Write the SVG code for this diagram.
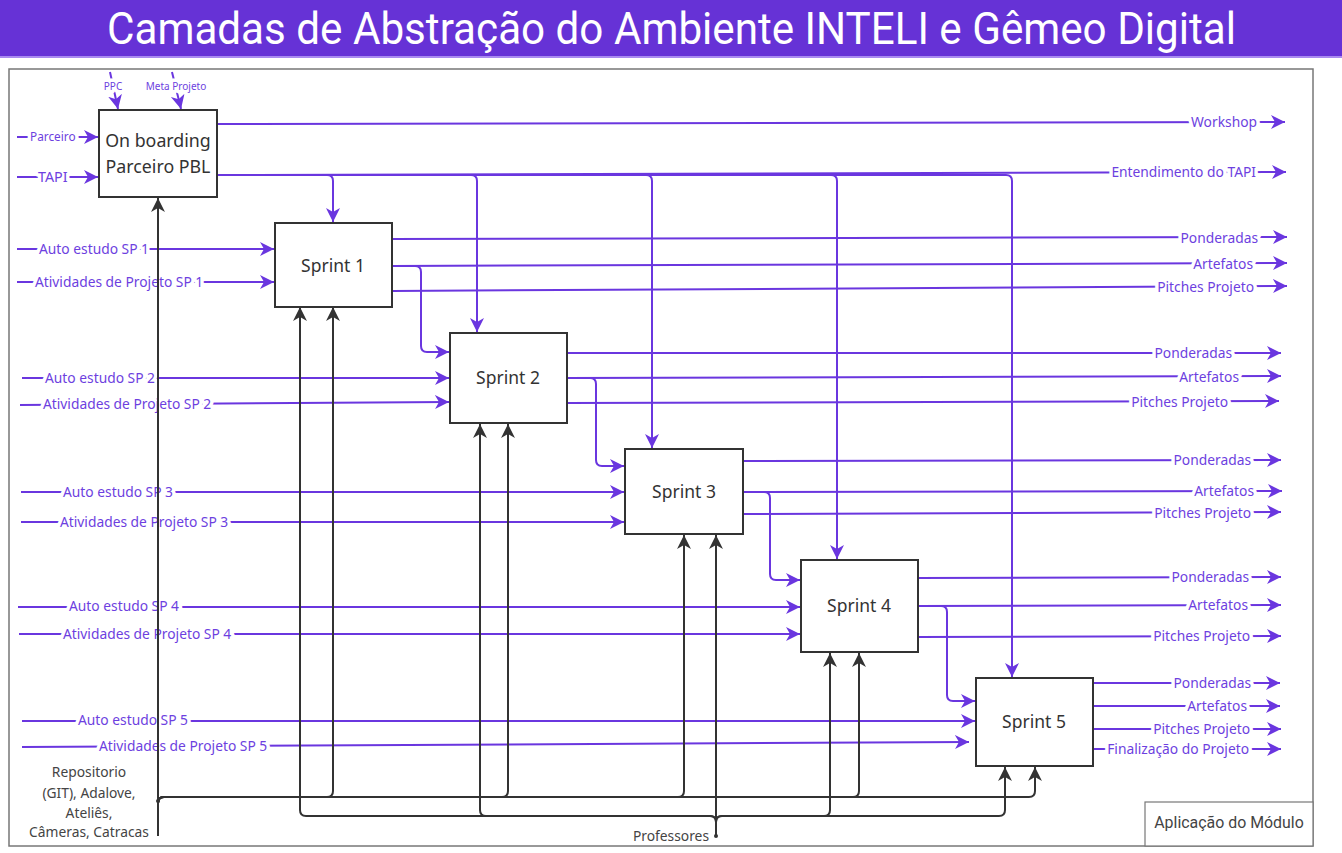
<svg xmlns="http://www.w3.org/2000/svg" width="1342" height="853" viewBox="0 0 1342 853">
<style>
.box{fill:#fff;stroke:#333;stroke-width:2}
.nt{font-family:"Noto Sans",sans-serif;fill:#333;text-anchor:middle}
.p{fill:none;stroke:#6a36df;stroke-width:2;marker-end:url(#ap)}
.k{fill:none;stroke:#333;stroke-width:2;marker-end:url(#ak)}
.lbl{font-family:"Noto Sans",sans-serif;font-size:13.8px;fill:#6d3fe0;stroke:#fff;stroke-width:7;stroke-linejoin:round;paint-order:stroke}
.end{text-anchor:end}
.mid{text-anchor:middle}
.gt{font-family:"Noto Sans",sans-serif;font-size:13.8px;fill:#444}
</style>
<defs>
<marker id="ap" markerUnits="userSpaceOnUse" markerWidth="16" markerHeight="16" refX="14" refY="7" orient="auto">
<path d="M0,0 L14,7 L0,14 L4,7 z" fill="#6a36df"/>
</marker>
<marker id="ak" markerUnits="userSpaceOnUse" markerWidth="16" markerHeight="16" refX="14" refY="7" orient="auto">
<path d="M0,0 L14,7 L0,14 L4,7 z" fill="#333"/>
</marker>
</defs>
<rect x="0" y="0" width="1342" height="853" fill="#fff"/>
<rect x="0" y="0" width="1342" height="56" fill="#6632d6"/>
<rect x="0" y="56" width="1342" height="2" fill="#a98af0"/>
<text x="107" y="43.5" font-family="Roboto,sans-serif" font-size="45" fill="#fff" textLength="1129" lengthAdjust="spacingAndGlyphs">Camadas de Abstração do Ambiente INTELI e Gêmeo Digital</text>
<rect x="9" y="69" width="1304" height="777" fill="none" stroke="#777" stroke-width="1.5"/>
<g id="aplicacao">
<rect x="1145" y="802" width="168" height="44" fill="#fff" stroke="#777" stroke-width="1.2"/>
<text x="1229" y="828" font-family="Roboto,sans-serif" font-size="15.9" fill="#444" text-anchor="middle">Aplicação do Módulo</text>
</g>
<g id="connectors">
<path class="p" d="M110,72 L118,109"/>
<text class="lbl mid" x="113" y="90" style="font-size:10px">PPC</text>
<path class="p" d="M172,72 L181,109"/>
<text class="lbl mid" x="176" y="90" style="font-size:10px">Meta Projeto</text>
<path class="p" d="M17,137 H98"/>
<text class="lbl" x="30" y="141" style="font-size:11.8px">Parceiro</text>
<path class="p" d="M17,177 H98"/>
<text class="lbl" x="38" y="182" style="font-size:14.3px">TAPI</text>
<path class="p" d="M217,124 L1285,122"/>
<text class="lbl end" x="1257" y="127">Workshop</text>
<path class="p" d="M217,175 L1286,172"/>
<text class="lbl end" x="1256" y="177">Entendimento do TAPI</text>
<path class="p" d="M217,175 H327 Q333,175 333,181 V222"/>
<path class="p" d="M217,175 H471 Q477,175 477,181 V332"/>
<path class="p" d="M217,175 H646 Q652,175 652,181 V448"/>
<path class="p" d="M217,175 H831 Q837,175 837,181 V559"/>
<path class="p" d="M217,175 H1006 Q1012,175 1012,181 V677"/>

<path class="p" d="M17,249 H274"/>
<text class="lbl" x="39" y="253.5">Auto estudo SP 1</text>
<path class="p" d="M17,282 H274"/>
<text class="lbl" x="35" y="286.5">Atividades de Projeto SP 1</text>
<path class="p" d="M392,239 L1287,237"/>
<text class="lbl end" x="1258" y="242.5">Ponderadas</text>
<path class="p" d="M392,266 L1287,263"/>
<text class="lbl end" x="1253" y="268.5">Artefatos</text>
<path class="p" d="M392,291 L1287,286"/>
<text class="lbl end" x="1254" y="292">Pitches Projeto</text>
<path class="p" d="M392,266 H415 Q421,266 421,272 V346 Q421,352 427,352 H449"/>

<path class="p" d="M22,378 H449"/>
<text class="lbl" x="45" y="382.5">Auto estudo SP 2</text>
<path class="p" d="M20,405 L449,402"/>
<text class="lbl" x="43" y="409">Atividades de Projeto SP 2</text>
<path class="p" d="M567,353 H1281"/>
<text class="lbl end" x="1232" y="357.5">Ponderadas</text>
<path class="p" d="M567,378 L1281,376"/>
<text class="lbl end" x="1239" y="381.5">Artefatos</text>
<path class="p" d="M567,403 L1279,401"/>
<text class="lbl end" x="1228" y="406.5">Pitches Projeto</text>
<path class="p" d="M567,378 H590 Q596,378 596,384 V460 Q596,466 602,466 H624"/>

<path class="p" d="M21,492 H624"/>
<text class="lbl" x="63" y="496.5">Auto estudo SP 3</text>
<path class="p" d="M21,522 H624"/>
<text class="lbl" x="60" y="526.5">Atividades de Projeto SP 3</text>
<path class="p" d="M743,461 L1281,460"/>
<text class="lbl end" x="1251" y="465">Ponderadas</text>
<path class="p" d="M743,492 L1282,491"/>
<text class="lbl end" x="1254" y="496">Artefatos</text>
<path class="p" d="M743,514 L1281,512"/>
<text class="lbl end" x="1251" y="517.5">Pitches Projeto</text>
<path class="p" d="M743,492 H764 Q770,492 770,498 V574 Q770,580 776,580 H800"/>

<path class="p" d="M18,607 H800"/>
<text class="lbl" x="69" y="611">Auto estudo SP 4</text>
<path class="p" d="M19,634 H800"/>
<text class="lbl" x="63" y="638.5">Atividades de Projeto SP 4</text>
<path class="p" d="M918,578 L1281,577"/>
<text class="lbl end" x="1249" y="582">Ponderadas</text>
<path class="p" d="M918,606 L1281,605"/>
<text class="lbl end" x="1248" y="610">Artefatos</text>
<path class="p" d="M918,637 L1281,636"/>
<text class="lbl end" x="1250" y="641">Pitches Projeto</text>
<path class="p" d="M918,606 H941 Q947,606 947,612 V695 Q947,701 953,701 H975"/>

<path class="p" d="M22,721 H975"/>
<text class="lbl" x="78" y="725">Auto estudo SP 5</text>
<path class="p" d="M22,747 L969,742"/>
<text class="lbl" x="99" y="751">Atividades de Projeto SP 5</text>
<path class="p" d="M1093,683 H1280"/>
<text class="lbl end" x="1251" y="687.5">Ponderadas</text>
<path class="p" d="M1093,706 H1280"/>
<text class="lbl end" x="1247" y="710.5">Artefatos</text>
<path class="p" d="M1093,729 H1281"/>
<text class="lbl end" x="1250" y="733.5">Pitches Projeto</text>
<path class="p" d="M1093,749 H1281"/>
<text class="lbl end" x="1249" y="753.5">Finalização do Projeto</text>

<path class="k" d="M158,836 V198"/>
<path class="k" d="M158,803 Q158,797 164,797 H327 Q333,797 333,791 V307"/>
<path class="k" d="M158,803 Q158,797 164,797 H502 Q508,797 508,791 V424"/>
<path class="k" d="M158,803 Q158,797 164,797 H678 Q684,797 684,791 V535"/>
<path class="k" d="M158,803 Q158,797 164,797 H853 Q859,797 859,791 V653"/>
<path class="k" d="M158,803 Q158,797 164,797 H1029 Q1035,797 1035,791 V767"/>
<path class="k" d="M716,836 V822 Q716,816 710,816 H306 Q300,816 300,810 V307"/>
<path class="k" d="M716,836 V822 Q716,816 710,816 H486 Q480,816 480,810 V424"/>
<path class="k" d="M716,836 V535"/>
<path class="k" d="M716,836 V822 Q716,816 722,816 H824 Q830,816 830,810 V653"/>
<path class="k" d="M716,836 V822 Q716,816 722,816 H999 Q1005,816 1005,810 V767"/>
<circle cx="158" cy="801" r="2" fill="#333"/>
<circle cx="716" cy="836" r="2" fill="#333"/>
</g>
<g id="repositorio">
<text class="gt" text-anchor="middle" x="89" y="777">Repositorio</text>
<text class="gt" text-anchor="middle" x="89" y="798">(GIT), Adalove,</text>
<text class="gt" text-anchor="middle" x="89" y="818">Ateliês,</text>
<text class="gt" text-anchor="middle" x="89" y="837">Câmeras, Catracas</text>
</g>
<g id="professores">
<text class="gt" text-anchor="end" x="709" y="841">Professores</text>
</g>
<g id="onboarding">
<rect class="box" x="99" y="110" width="118" height="87"/>
<text class="nt" x="158" y="147" font-size="17.8">On boarding</text>
<text class="nt" x="158" y="173" font-size="17.8">Parceiro PBL</text>
</g>
<g id="sprint1">
<rect class="box" x="275" y="223" width="117" height="84"/>
<text class="nt" x="333" y="271.5" font-size="17.5">Sprint 1</text>
</g>
<g id="sprint2">
<rect class="box" x="450" y="333" width="117" height="90"/>
<text class="nt" x="508" y="384" font-size="17.5">Sprint 2</text>
</g>
<g id="sprint3">
<rect class="box" x="625" y="449" width="118" height="85"/>
<text class="nt" x="684" y="497.5" font-size="17.5">Sprint 3</text>
</g>
<g id="sprint4">
<rect class="box" x="801" y="560" width="117" height="92"/>
<text class="nt" x="859" y="611.5" font-size="17.5">Sprint 4</text>
</g>
<g id="sprint5">
<rect class="box" x="976" y="678" width="117" height="88"/>
<text class="nt" x="1034" y="727.5" font-size="17.5">Sprint 5</text>
</g>
</svg>
